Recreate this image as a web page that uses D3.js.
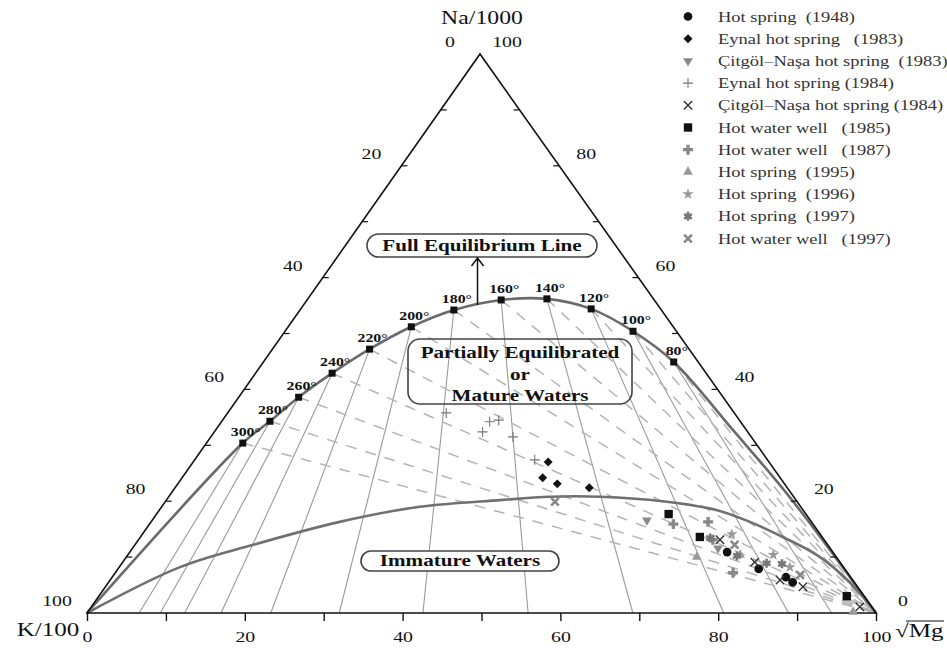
<!DOCTYPE html>
<html>
<head>
<meta charset="utf-8">
<script src="https://cdn.jsdelivr.net/npm/d3@7"></script>
<style>
body { margin: 0; background: #fff; }
text { font-family: "Liberation Serif", "Times New Roman", serif; }
</style>
</head>
<body>
<div id="chart"></div>
<script>
// full equilibrium line: temperature points, as Na/1000, K/100, sqrt(Mg) percentages
var tempLabels = ["300°", "280°", "260°", "240°", "220°", "200°", "180°", "160°", "140°", "120°", "100°", "80°"];
var eqNa = [30.4, 34.3, 38.6, 42.9, 47.2, 51.2, 54.2, 56.0, 56.2, 54.4, 50.4, 44.9];
var eqK  = [65.0, 59.6, 53.8, 47.4, 40.5, 33.2, 26.3, 19.4, 13.5, 8.8, 5.5, 3.1];
var eqMg = [4.6, 6.1, 7.6, 9.7, 12.3, 15.6, 19.5, 24.6, 30.3, 36.8, 44.1, 52.0];
// rest of the line below 80° down to the Mg corner
var eqTailNa = [32.7, 20.2];
var eqTailK  = [1.7, 0.5];
var eqTailMg = [65.6, 79.3];

// immature waters boundary
var immNa = [0, 8.2, 12.2, 16.3, 19.0, 20.2, 20.8, 20.8, 19.9, 18.4, 16.3, 13.6, 10.4, 7.2, 2.9, 0];
var immK  = [100, 84.1, 72.9, 59.8, 48.3, 37.5, 30.9, 24.6, 16.5, 10.9, 7.8, 5.0, 2.3, 1.0, 0.2, 0];
var immMg = [0, 7.7, 15.0, 23.9, 32.7, 42.3, 48.3, 54.6, 63.6, 70.7, 75.9, 81.4, 87.3, 91.8, 96.9, 100];

// samples [Na, K, Mg]
var hs1948     = [[10.9, 13.4, 75.7], [7.9, 10.9, 81.2], [6.4, 8.2, 85.4], [5.5, 7.8, 86.7]];
var eynal1983  = [[27.0, 28.0, 45.0], [24.2, 30.1, 45.7], [23.1, 28.8, 48.1], [22.4, 25.1, 52.5]];
var citgol1983 = [[16.6, 20.7, 62.7], [11.6, 14.2, 74.2]];
var eynal1984  = [[35.8, 36.5, 27.7], [34.2, 31.8, 34.0], [34.5, 30.5, 35.0], [32.4, 33.6, 34.0], [31.5, 30.2, 38.3], [27.4, 29.5, 43.1]];
var citgol1984 = [[13.1, 13.2, 73.7], [9.1, 10.8, 80.1], [5.9, 9.2, 84.9], [4.7, 6.9, 88.4], [1.1, 1.5, 97.4]];
var hww1985    = [[17.7, 17.4, 64.9], [13.6, 15.5, 70.9], [3.0, 2.2, 94.8]];
var hww1987    = [[15.9, 17.7, 66.4], [16.3, 13.1, 70.6], [7.2, 14.5, 78.3], [13.1, 14.1, 72.8]];
var hs1995     = [[10.0, 17.7, 72.3], [0.2, 2.8, 97.0], [10.4, 12.0, 77.6]];
var hs1996     = [[14.1, 11.2, 74.7], [10.4, 7.8, 81.8], [8.2, 6.8, 85.0]];
var hs1997     = [[13.4, 14.3, 72.3], [10.2, 12.5, 77.3], [8.9, 9.4, 81.7], [8.8, 7.5, 83.7]];
var hww1997    = [[19.9, 30.7, 49.4], [12.2, 11.8, 76.0], [6.8, 6.2, 87.0]];

var legendLabels = ["Hot spring  (1948)", "Eynal hot spring   (1983)", "Çitgöl–Naşa hot spring  (1983)",
  "Eynal hot spring (1984)", "Çitgöl–Naşa hot spring (1984)", "Hot water well   (1985)",
  "Hot water well   (1987)", "Hot spring  (1995)", "Hot spring  (1996)", "Hot spring  (1997)",
  "Hot water well   (1997)"];

var axisTicks = d3.range(0, 101, 10);

var w = 947, h = 648;
var SX = 1.32; // the original figure is stretched sideways
var vK = [87, 613], vMg = [876, 613], vNa = [480, 54];

var svg = d3.select("#chart").append("svg")
    .attr("width", w)
    .attr("height", h);

var xBottom = d3.scaleLinear().domain([0, 100]).range([vK[0], vMg[0]]);
var yNa = d3.scaleLinear().domain([0, 100]).range([vK[1], vNa[1]]);

// ternary -> pixel
function pt(na, k, mg) {
    var s = na + k + mg;
    na = na * 100 / s;
    mg = mg * 100 / s;
    return [xBottom(mg) + (vNa[0] - vK[0]) * na / 100, yNa(na)];
}

function label(g, x, y, str, size, weight, anchor) {
    return g.append("text")
        .attr("transform", "translate(" + x + "," + y + ") scale(" + SX + ",1)")
        .attr("text-anchor", anchor || "middle")
        .style("font-size", size + "px")
        .style("font-weight", weight || "normal")
        .style("white-space", "pre")
        .attr("fill", "#111")
        .text(str);
}

var eqPts = tempLabels.map(function (t, i) { return pt(eqNa[i], eqK[i], eqMg[i]); });

// solid lines (constant K/Mg) from the curve to the base
svg.append("g").selectAll("line")
    .data(tempLabels)
    .enter().append("line")
    .attr("x1", function (d, i) { return eqPts[i][0]; })
    .attr("y1", function (d, i) { return eqPts[i][1]; })
    .attr("x2", function (d, i) { return pt(0, eqK[i], eqMg[i])[0]; })
    .attr("y2", function (d, i) { return pt(0, eqK[i], eqMg[i])[1]; })
    .attr("stroke", "#9a9a9a")
    .attr("stroke-width", 1.1);

// dashed lines (constant Na/K) to the Mg corner
var mgCorner = pt(0, 0, 100);
svg.append("g").selectAll("line")
    .data(tempLabels)
    .enter().append("line")
    .attr("x1", function (d, i) { return eqPts[i][0]; })
    .attr("y1", function (d, i) { return eqPts[i][1]; })
    .attr("x2", mgCorner[0])
    .attr("y2", mgCorner[1])
    .attr("stroke", "#b4b4b4")
    .attr("stroke-width", 1.5)
    .attr("stroke-dasharray", "11,9");

var line = d3.line().curve(d3.curveCatmullRom.alpha(0.5));

// full equilibrium line
var eqLine = [pt(0, 100, 0)].concat(eqPts)
    .concat(eqTailNa.map(function (d, i) { return pt(d, eqTailK[i], eqTailMg[i]); }))
    .concat([mgCorner]);
svg.append("path")
    .attr("d", line(eqLine))
    .attr("fill", "none")
    .attr("stroke", "#6a6a6a")
    .attr("stroke-width", 2.6);

// immature waters line
svg.append("path")
    .attr("d", line(immNa.map(function (d, i) { return pt(d, immK[i], immMg[i]); })))
    .attr("fill", "none")
    .attr("stroke", "#707070")
    .attr("stroke-width", 2.6);

// triangle
svg.append("path")
    .attr("d", "M" + vK + "L" + vNa + "L" + vMg + "Z")
    .attr("fill", "none")
    .attr("stroke", "#111")
    .attr("stroke-width", 1.6);

// bottom axis
var axis = d3.axisBottom(xBottom)
    .tickValues(axisTicks)
    .tickSize(8)
    .tickSizeOuter(0)
    .tickPadding(10)
    .tickFormat(function (d) { return d % 20 === 0 ? d : ""; });
var ag = svg.append("g")
    .attr("transform", "translate(0," + vK[1] + ")")
    .call(axis);
ag.select(".domain").remove();
ag.selectAll("line").attr("stroke", "#111").attr("stroke-width", 1.4);
ag.selectAll("text")
    .attr("transform", "scale(" + SX + ",1)")
    .attr("fill", "#111")
    .style("font-size", "15px");

// side ticks and labels
var sides = svg.append("g");
axisTicks.forEach(function (v) {
    var pl = pt(100 - v, v, 0), pr = pt(v, 0, 100 - v);
    if (v > 0 && v < 100) {
        sides.append("line").attr("x1", pl[0]).attr("y1", pl[1]).attr("x2", pl[0] + 6).attr("y2", pl[1])
            .attr("stroke", "#111").attr("stroke-width", 1.2);
        sides.append("line").attr("x1", pr[0]).attr("y1", pr[1]).attr("x2", pr[0] - 6).attr("y2", pr[1])
            .attr("stroke", "#111").attr("stroke-width", 1.2);
    }
    if (v % 20 === 0) {
        label(sides, pl[0] - 30, pl[1] - 7, String(v), 15);
        label(sides, pr[0] + 27, pr[1] - 7, String(v), 15);
    }
});

label(svg, vNa[0] + 2, 24, "Na/1000", 18);
label(svg, 48, 636, "K/100", 19);
label(svg, 895, 637, "√Mg", 19, "normal", "start");
svg.append("line").attr("x1", 906).attr("x2", 944).attr("y1", 621).attr("y2", 621)
    .attr("stroke", "#111").attr("stroke-width", 1.2);

// temperature markers
svg.append("g").selectAll("rect")
    .data(eqPts)
    .enter().append("rect")
    .attr("x", function (d) { return d[0] - 3.5; })
    .attr("y", function (d) { return d[1] - 3.5; })
    .attr("width", 7)
    .attr("height", 7)
    .attr("fill", "#111");
var tl = svg.append("g");
tempLabels.forEach(function (t, i) {
    label(tl, eqPts[i][0] + 3, eqPts[i][1] - 7, t, 12, "bold");
});

// boxes
function box(x, y, bw, bh, fill) {
    svg.append("rect").attr("x", x).attr("y", y).attr("width", bw).attr("height", bh)
        .attr("rx", Math.min(bh / 2, 12)).attr("ry", Math.min(bh / 2, 12))
        .attr("fill", fill).attr("stroke", "#444").attr("stroke-width", 1.6);
}
box(367, 234, 230, 23, "#fff");
label(svg, 482, 251, "Full Equilibrium Line", 16, "bold");
box(408, 339, 224, 65, "none");
label(svg, 520, 358, "Partially Equilibrated", 16, "bold");
label(svg, 520, 380, "or", 16, "bold");
label(svg, 520, 401, "Mature Waters", 16, "bold");
box(361, 551, 198, 20, "#fff");
label(svg, 460, 566, "Immature Waters", 16, "bold");

// arrow from the curve up to the label
var ax = (eqPts[6][0] + eqPts[7][0]) / 2, ay = (eqPts[6][1] + eqPts[7][1]) / 2;
svg.append("path")
    .attr("d", "M" + ax + "," + ay + "V258M" + (ax - 6) + ",266L" + ax + ",258L" + (ax + 6) + ",266")
    .attr("fill", "none").attr("stroke", "#111").attr("stroke-width", 1.5);

// symbols
var symPlus = { draw: function (c, s) { var r = Math.sqrt(s) / 2; c.moveTo(-r, 0); c.lineTo(r, 0); c.moveTo(0, -r); c.lineTo(0, r); } };
var symX = { draw: function (c, s) { var r = Math.sqrt(s) / 2; c.moveTo(-r, -r); c.lineTo(r, r); c.moveTo(r, -r); c.lineTo(-r, r); } };
var symAst = { draw: function (c, s) {
    var r = Math.sqrt(s) / 2;
    for (var a = 0; a < 3; a++) {
        var t = a * Math.PI / 3 + Math.PI / 2;
        c.moveTo(-r * Math.cos(t), -r * Math.sin(t)); c.lineTo(r * Math.cos(t), r * Math.sin(t));
    }
} };

var series = [
    { data: hs1948, type: d3.symbolCircle, size: 60, fill: "#111" },
    { data: eynal1983, type: d3.symbolSquare, size: 40, fill: "#111", rot: 45 },
    { data: citgol1983, type: d3.symbolTriangle, size: 40, fill: "#8a8a8a", rot: 180 },
    { data: eynal1984, type: symPlus, size: 100, stroke: "#777", sw: 1.1 },
    { data: citgol1984, type: symX, size: 70, stroke: "#333", sw: 1.4 },
    { data: hww1985, type: d3.symbolSquare, size: 70, fill: "#111" },
    { data: hww1987, type: d3.symbolCross, size: 55, fill: "#888" },
    { data: hs1995, type: d3.symbolTriangle, size: 40, fill: "#999" },
    { data: hs1996, type: d3.symbolStar, size: 40, fill: "#999" },
    { data: hs1997, type: symAst, size: 80, stroke: "#777", sw: 2.6 },
    { data: hww1997, type: symX, size: 60, stroke: "#888", sw: 2.6 }
];

function drawSymbol(g, s, x, y) {
    g.append("path")
        .attr("d", d3.symbol().type(s.type).size(s.size)())
        .attr("transform", "translate(" + x + "," + y + ")" + (s.rot ? " rotate(" + s.rot + ")" : ""))
        .attr("fill", s.fill || "none")
        .attr("stroke", s.stroke || "none")
        .attr("stroke-width", s.sw || 0);
}

var marks = svg.append("g");
series.forEach(function (s) {
    s.data.forEach(function (d) {
        var p = pt(d[0], d[1], d[2]);
        drawSymbol(marks, s, p[0], p[1]);
    });
});

// legend
var legend = svg.append("g");
series.forEach(function (s, i) {
    var y = 16.5 + i * 22.2;
    drawSymbol(legend, s, 688, y);
    label(legend, 718, y + 5, legendLabels[i], 14, "normal", "start").attr("fill", "#333");
});
</script>
</body>
</html>
